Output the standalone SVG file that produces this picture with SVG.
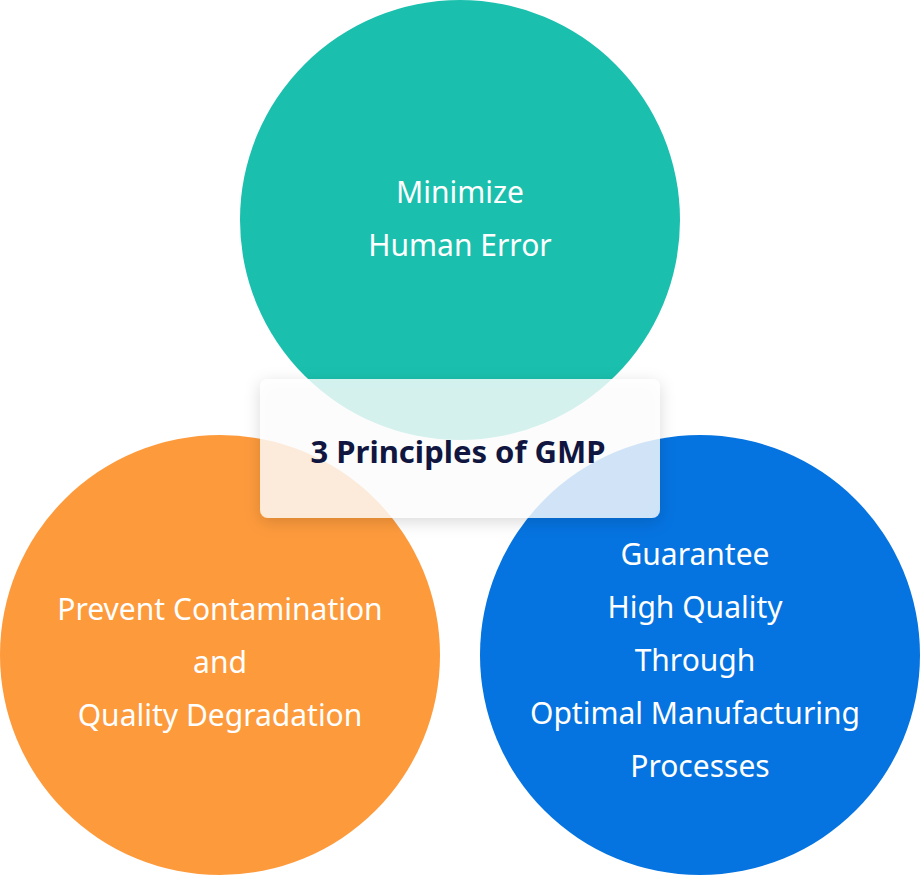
<svg xmlns="http://www.w3.org/2000/svg" width="920" height="876" viewBox="0 0 920 876">
<defs>
<style>
.t{font-family:"Noto Sans","Open Sans",sans-serif;font-size:30px;fill:#fff;text-anchor:middle}
.c{font-family:"Noto Sans","Open Sans",sans-serif;font-size:31px;font-weight:bold;fill:#10163f;text-anchor:middle}
</style>
<filter id="sh" x="-20%" y="-30%" width="140%" height="160%"><feDropShadow dx="0" dy="4" stdDeviation="8" flood-color="#000" flood-opacity="0.18"/></filter>
</defs>
<g id="top"><circle cx="460" cy="220" r="220" fill="#1abfad"/>
<text class="t" x="460" y="203">Minimize</text><text class="t" x="460" y="256">Human Error</text></g>
<g id="left"><circle cx="220" cy="655" r="220" fill="#fd9a3c"/>
<text class="t" x="220" y="620">Prevent Contamination</text><text class="t" x="220" y="673">and</text><text class="t" x="220" y="726">Quality Degradation</text></g>
<g id="right"><circle cx="700" cy="655" r="220" fill="#0573e0"/>
<text class="t" x="695" y="565">Guarantee</text><text class="t" x="695" y="618">High Quality</text><text class="t" x="695" y="671">Through</text><text class="t" x="695" y="724">Optimal Manufacturing</text><text class="t" x="700" y="777">Processes</text></g>
<g id="center"><rect x="260" y="379" width="400" height="139" rx="8" fill="#fff" fill-opacity="0.8" filter="url(#sh)"/>
<text class="c" x="458" y="463">3 Principles of GMP</text></g>
<g id="connectors"/>
</svg>
